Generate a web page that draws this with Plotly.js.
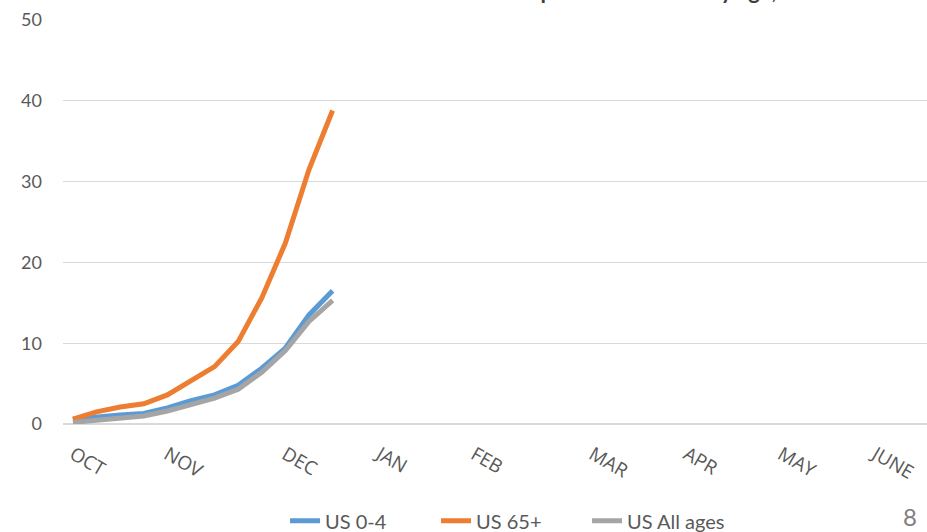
<!DOCTYPE html>
<html>
<head>
<meta charset="utf-8">
<script src="https://cdn.plot.ly/plotly-3.0.1.min.js"></script>
<style>html,body{margin:0;padding:0;background:#fff;}#chart{width:927px;height:532px;}</style>
</head>
<body>
<div id="chart"></div>
<script>
// Weekly index (week 0 = first week of October)
var weeks = [0, 1, 2, 3, 4, 5, 6, 7, 8, 9, 10, 11];
var us04 = [0.6, 0.9, 1.1, 1.3, 2.0, 2.9, 3.6, 4.8, 6.9, 9.4, 13.5, 16.5];
var us65 = [0.6, 1.5, 2.1, 2.5, 3.6, 5.3, 7.1, 10.2, 15.6, 22.4, 31.5, 38.8];
var usAll = [0.2, 0.5, 0.8, 1.0, 1.6, 2.4, 3.2, 4.3, 6.4, 9.1, 12.7, 15.3];
var monthWeeks = [0, 4, 9, 13, 17, 22, 26, 30, 34];
var monthLabels = ["OCT", "NOV", "DEC", "JAN", "FEB", "MAR", "APR", "MAY", "JUNE"];
var yTicks = [0, 10, 20, 30, 40, 50];
var seriesNames = ["US 0-4", "US 65+", "US All ages"];
var titleText = "Cumulative COVID-19 hospitalization rates by age, US";
var pageNumber = "8";

var colors = ["#5B9BD5", "#ED7D31", "#A5A5A5"];
var values = [us04, us65, usAll];
var traces = values.map(function (v, i) {
  return {
    x: weeks, y: v, type: "scatter", mode: "lines", name: seriesNames[i],
    line: {color: colors[i], width: 5, shape: "linear"}
  };
});

var layout = {
  width: 927, height: 532,
  margin: {l: 63, r: 0, t: 20, b: 108, autoexpand: false},
  paper_bgcolor: "#ffffff", plot_bgcolor: "#ffffff",
  showlegend: true,
  legend: {
    orientation: "h", xref: "paper", x: 0.257, xanchor: "left",
    yref: "container", y: 0.021, yanchor: "middle",
    font: {family: "Lato, 'Liberation Sans', sans-serif", size: 20, color: "#595959"},
    entrywidth: 106, entrywidthmode: "pixels", traceorder: "normal"
  },
  xaxis: {
    range: [-0.42, 36.18], tickmode: "array", tickvals: monthWeeks, ticktext: monthLabels,
    tickangle: 30, showgrid: false, zeroline: false, showline: false, ticks: "",
    tickfont: {family: "'Open Sans', sans-serif", size: 19, color: "#595959"},
    ticklabelstandoff: 15, fixedrange: true, automargin: false
  },
  yaxis: {
    range: [0, 50], tickmode: "array", tickvals: yTicks,
    showgrid: true, gridcolor: "#d9d9d9", gridwidth: 1.3,
    zeroline: true, zerolinecolor: "#d9d9d9", zerolinewidth: 1.3,
    showline: false, ticks: "",
    tickfont: {family: "Lato, 'Liberation Sans', sans-serif", size: 18, color: "#595959"},
    ticklabelstandoff: 20, fixedrange: true, automargin: false
  },
  annotations: [
    {
      text: titleText, xref: "paper", yref: "paper", x: 0.249, y: 1.034,
      xanchor: "left", yanchor: "bottom", showarrow: false,
      font: {family: "Lato, 'Liberation Sans', sans-serif", size: 22, color: "#404040", weight: "bold"}
    },
    {
      text: pageNumber, xref: "paper", yref: "paper", x: 0.98, y: -0.228,
      xanchor: "center", yanchor: "middle", showarrow: false,
      font: {family: "Lato, 'Liberation Sans', sans-serif", size: 24, color: "#7f7f7f"}
    }
  ]
};

Plotly.newPlot("chart", traces, layout, {displayModeBar: false, staticPlot: true});
</script>
</body>
</html>
